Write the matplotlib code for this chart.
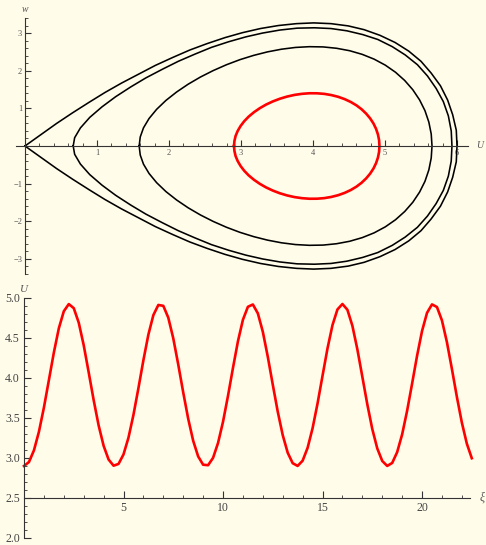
import numpy as np
import matplotlib
matplotlib.use('Agg')
import matplotlib.pyplot as plt
from matplotlib.ticker import MultipleLocator, FormatStrFormatter

# Phase plane (U, w): upper halves of the orbits, lower halves are mirror images
sep_U = [0.00, 0.22, 0.44, 0.66, 0.89, 1.11, 1.34, 1.58, 1.81, 2.05, 2.29, 2.53, 2.78, 3.02, 3.27, 3.52,
         3.77, 4.01, 4.25, 4.49, 4.71, 4.93, 5.14, 5.33, 5.50, 5.64, 5.77, 5.87, 5.94, 5.99, 6.00]
sep_w = [0.00, 0.30, 0.60, 0.88, 1.16, 1.42, 1.67, 1.91, 2.14, 2.35, 2.55, 2.72, 2.88, 3.01, 3.12, 3.20,
         3.25, 3.27, 3.25, 3.19, 3.09, 2.94, 2.75, 2.52, 2.25, 1.94, 1.60, 1.22, 0.83, 0.42, 0.00]

orb1_U = [0.67, 0.69, 0.77, 0.90, 1.07, 1.26, 1.47, 1.68, 1.91, 2.13, 2.36, 2.59, 2.83, 3.07, 3.30, 3.54,
          3.78, 4.02, 4.25, 4.47, 4.69, 4.90, 5.10, 5.28, 5.45, 5.59, 5.71, 5.81, 5.88, 5.92, 5.93]
orb1_w = [0.00, 0.22, 0.48, 0.76, 1.04, 1.31, 1.57, 1.81, 2.04, 2.25, 2.44, 2.62, 2.77, 2.90, 3.00, 3.08,
          3.13, 3.14, 3.12, 3.06, 2.96, 2.83, 2.64, 2.42, 2.16, 1.86, 1.53, 1.18, 0.80, 0.40, 0.00]

orb2_U = [1.586, 1.601, 1.646, 1.723, 1.829, 1.958, 2.106, 2.266, 2.437, 2.615, 2.799, 2.985, 3.176,
          3.368, 3.562, 3.757, 3.949, 4.140, 4.327, 4.509, 4.684, 4.849, 5.004, 5.146, 5.274, 5.386,
          5.480, 5.555, 5.609, 5.642, 5.653]
orb2_w = [0.000, 0.240, 0.482, 0.729, 0.975, 1.211, 1.434, 1.641, 1.832, 2.004, 2.159, 2.293, 2.407,
          2.500, 2.571, 2.618, 2.638, 2.632, 2.596, 2.531, 2.434, 2.307, 2.148, 1.959, 1.740, 1.495,
          1.226, 0.939, 0.635, 0.319, 0.000]

red_U = [2.903, 2.909, 2.925, 2.954, 2.994, 3.045, 3.107, 3.180, 3.261, 3.348, 3.442, 3.539, 3.640,
         3.743, 3.847, 3.951, 4.054, 4.155, 4.254, 4.349, 4.440, 4.525, 4.604, 4.675, 4.739, 4.794,
         4.840, 4.876, 4.902, 4.918, 4.923]
red_w = [0.000, 0.133, 0.266, 0.399, 0.530, 0.658, 0.781, 0.897, 1.004, 1.100, 1.184, 1.255, 1.313,
         1.357, 1.386, 1.401, 1.400, 1.385, 1.353, 1.307, 1.245, 1.169, 1.079, 0.976, 0.859, 0.733,
         0.598, 0.455, 0.307, 0.154, 0.000]

# U(xi), sampled every 0.25
U_xi = [2.900, 2.950, 3.096, 3.328, 3.630, 3.973, 4.318, 4.621, 4.834, 4.924, 4.873, 4.692, 4.410, 4.071,
        3.724, 3.407, 3.153, 2.981, 2.904, 2.926, 3.045, 3.255, 3.540, 3.874, 4.223, 4.543, 4.786, 4.913,
        4.902, 4.754, 4.496, 4.169, 3.820, 3.491, 3.216, 3.020, 2.916, 2.910, 3.002, 3.188, 3.453, 3.777,
        4.126, 4.459, 4.728, 4.890, 4.919, 4.808, 4.578, 4.265, 3.917, 3.579, 3.286, 3.066, 2.935, 2.901,
        2.966, 3.127, 3.372, 3.682, 4.028, 4.370, 4.661, 4.857, 4.925, 4.853, 4.653, 4.359, 4.016, 3.671,
        3.362, 3.120, 2.963, 2.901, 2.938, 3.073, 3.295, 3.590, 3.929, 4.277, 4.587, 4.814, 4.920, 4.887,
        4.720, 4.448, 4.114, 3.765, 3.443, 3.180, 2.997]
xi = np.arange(len(U_xi)) * 0.25

bg = '#FFFCEA'
axcol = '#333333'
lblcol = '#555555'
serif = ['Liberation Serif', 'DejaVu Serif']

fig = plt.figure(figsize=(4.86, 5.45), dpi=100, facecolor=bg)

# top: phase portrait
ax = fig.add_axes([15.6/486, 1 - 274/545, 452.2/486, 256/545])
ax.set_facecolor('none')
orbits = [(sep_U, sep_w, 'black', 1.15), (orb1_U, orb1_w, 'black', 1.15),
          (orb2_U, orb2_w, 'black', 1.15), (red_U, red_w, '#FF0000', 1.9)]
for U, w, c, lw in orbits:
    U = np.array(U)
    w = np.array(w)
    ax.plot(np.concatenate([U, U[::-1]]), np.concatenate([w, -w[::-1]]),
            color=c, lw=lw, solid_joinstyle='round')
ax.set_xlim(-0.13, 6.15)
ax.set_ylim(-3.4, 3.4)
ax.spines['left'].set_position(('data', 0))
ax.spines['bottom'].set_position(('data', 0))
ax.spines['top'].set_visible(False)
ax.spines['right'].set_visible(False)
for s in ('left', 'bottom'):
    ax.spines[s].set_color(axcol)
    ax.spines[s].set_linewidth(0.8)
ax.set_xticks([1, 2, 3, 4, 5, 6])
ax.set_yticks([-3, -2, -1, 1, 2, 3])
ax.set_yticklabels(['\u22123', '\u22122', '\u22121', '1', '2', '3'])
ax.xaxis.set_minor_locator(MultipleLocator(0.2))
ax.yaxis.set_minor_locator(MultipleLocator(0.2))
ax.tick_params(which='major', direction='in', length=4, width=0.8, color=axcol,
               labelsize=6, labelcolor=lblcol, pad=2)
ax.tick_params(which='minor', direction='in', length=2, width=0.6, color=axcol)
for t in ax.get_xticklabels() + ax.get_yticklabels():
    t.set_family(serif)
ax.annotate('w', xy=(0, 1), xycoords=('data', 'axes fraction'), xytext=(0, 3),
            textcoords='offset points', ha='center', va='bottom',
            fontsize=7, style='italic', family=serif, color=lblcol)
ax.annotate('U', xy=(1, 0), xycoords=('axes fraction', 'data'), xytext=(6, 0),
            textcoords='offset points', ha='left', va='center',
            fontsize=7, style='italic', family=serif, color=lblcol)

# bottom: U vs xi
bx = fig.add_axes([24/486, 7/545, 445.8/486, 240/545])
bx.set_facecolor('none')
bx.plot(xi, U_xi, color='#FF0000', lw=1.9, solid_joinstyle='round', clip_on=False)
bx.set_xlim(0, 22.4)
bx.set_ylim(2.0, 5.0)
bx.spines['bottom'].set_position(('data', 2.5))
bx.spines['top'].set_visible(False)
bx.spines['right'].set_visible(False)
for s in ('left', 'bottom'):
    bx.spines[s].set_color(axcol)
    bx.spines[s].set_linewidth(0.8)
bx.set_xticks([5, 10, 15, 20])
bx.xaxis.set_minor_locator(MultipleLocator(1))
bx.yaxis.set_major_locator(MultipleLocator(0.5))
bx.yaxis.set_minor_locator(MultipleLocator(0.1))
bx.yaxis.set_major_formatter(FormatStrFormatter('%.1f'))
bx.tick_params(which='major', direction='in', length=5, width=0.8, color=axcol,
               labelsize=8.5, labelcolor='#444444', pad=3)
bx.tick_params(which='minor', direction='in', length=2.5, width=0.6, color=axcol)
for t in bx.get_xticklabels() + bx.get_yticklabels():
    t.set_family(serif)
bx.annotate('U', xy=(0, 1), xycoords='axes fraction', xytext=(0, 3),
            textcoords='offset points', ha='center', va='bottom',
            fontsize=8, style='italic', family=serif, color=lblcol)
bx.annotate('\u03be', xy=(1, 2.5), xycoords=('axes fraction', 'data'), xytext=(7, 0),
            textcoords='offset points', ha='left', va='center',
            fontsize=8.5, style='italic', family=serif, color=lblcol)

fig.savefig('out.png', dpi=100, facecolor=bg)
